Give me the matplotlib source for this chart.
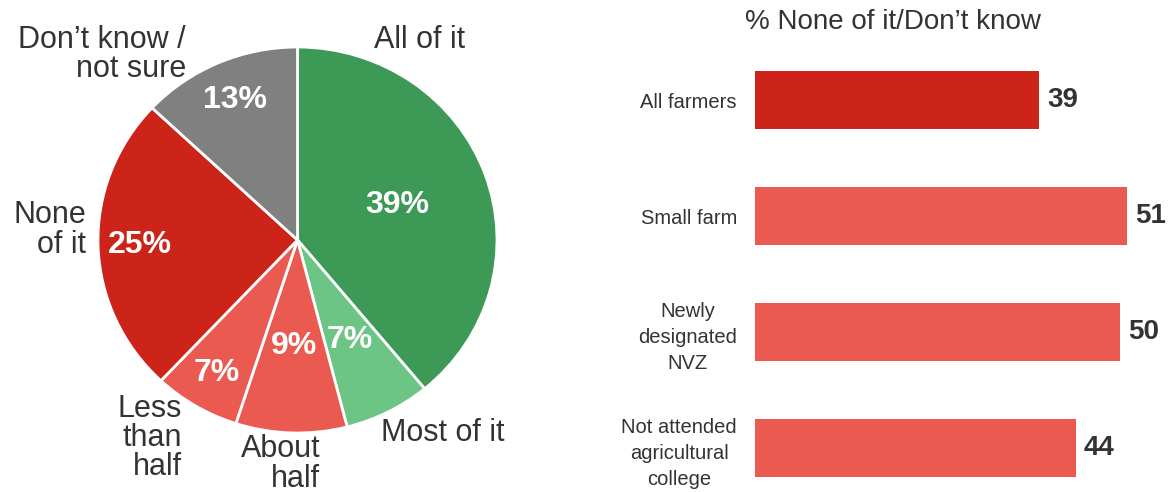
import matplotlib

matplotlib.use("Agg")
import matplotlib.pyplot as plt
import numpy as np

plt.rcParams["font.family"] = ["Liberation Sans", "DejaVu Sans"]

# Pie: how much of the guidance farmers had read
PIE_LABELS = ["All of it", "Most of it", "About\nhalf", "Less\nthan\nhalf",
              "None\nof it", "Don\u2019t know /\nnot sure"]
PIE_VALUES = [39, 7, 9, 7, 25, 13]
PIE_COLORS = ["#3d9956", "#6cc585", "#eb5a50", "#eb5a50", "#cc2418", "#808080"]

# Bars: share answering none of it / don't know, by group
BAR_GROUPS = ["All farmers", "Small farm", "Newly\ndesignated\nNVZ",
              "Not attended\nagricultural\ncollege"]
BAR_VALUES = [39, 51, 50, 44]
BAR_COLORS = ["#cc2418", "#eb5a50", "#eb5a50", "#eb5a50"]

TEXT = "#333333"
W, H = 1168, 492


def px_axes(fig, left, top, right, bottom):
    return fig.add_axes([left / W, 1 - bottom / H, (right - left) / W, (bottom - top) / H])


fig = plt.figure(figsize=(W / 100, H / 100), dpi=100)

# ---- pie ----
ax = px_axes(fig, 98, 47, 497, 433)
wedges, _ = ax.pie(PIE_VALUES, colors=PIE_COLORS, startangle=90, counterclock=False,
                   radius=1, wedgeprops=dict(edgecolor="white", linewidth=2))
ax.set_aspect("auto")
ax.set_xlim(-1, 1)
ax.set_ylim(-1, 1)
ax.axis("off")

# percentage labels sit along each wedge's mid-angle
pct_dist = [0.53, 0.58, 0.55, 0.80, 0.79, 0.79]
for w, v, d in zip(wedges, PIE_VALUES, pct_dist):
    mid = np.deg2rad((w.theta1 + w.theta2) / 2)
    ax.text(d * np.cos(mid), d * np.sin(mid), f"{v}%", color="white",
            fontsize=23, fontweight="bold", ha="center", va="center")

# category names around the outside
name_pos = [(0.61, 1.036, "center"), (0.73, -1.0, "center"), (0.115, -1.16, "right"),
            (-0.578, -1.026, "right"), (-1.06, 0.052, "right"), (-0.56, 0.96, "right")]
for lab, (u, v, ha) in zip(PIE_LABELS, name_pos):
    ax.text(u, v, lab, color=TEXT, fontsize=22, ha=ha, va="center",
            multialignment=ha, linespacing=0.97, clip_on=False)

# ---- bars ----
bx = px_axes(fig, 755, 42, W, H)
y = np.arange(len(BAR_VALUES))
bx.barh(y, BAR_VALUES, height=0.5, color=BAR_COLORS)
bx.set_xlim(0, (W - 755) / 7.29)
bx.set_ylim(3.379, -0.5)
bx.set_yticks(y)
bx.set_yticklabels(BAR_GROUPS, fontsize=14.5, color=TEXT)
for lbl in bx.get_yticklabels():
    lbl.set_multialignment("center")
    lbl.set_linespacing(1.45)
bx.tick_params(axis="y", length=0, pad=13)
bx.set_xticks([])
for s in bx.spines.values():
    s.set_visible(False)
for yi, v in zip(y, BAR_VALUES):
    bx.annotate(str(v), (v, yi), xytext=(6, 0), textcoords="offset points",
                fontsize=20, fontweight="bold", color=TEXT, ha="left", va="center",
                annotation_clip=False)

fig.text(893 / W, 1 - 22 / H, "% None of it/Don\u2019t know", fontsize=20,
         color=TEXT, ha="center", va="center")

fig.savefig("out.png", dpi=100, facecolor="white")
